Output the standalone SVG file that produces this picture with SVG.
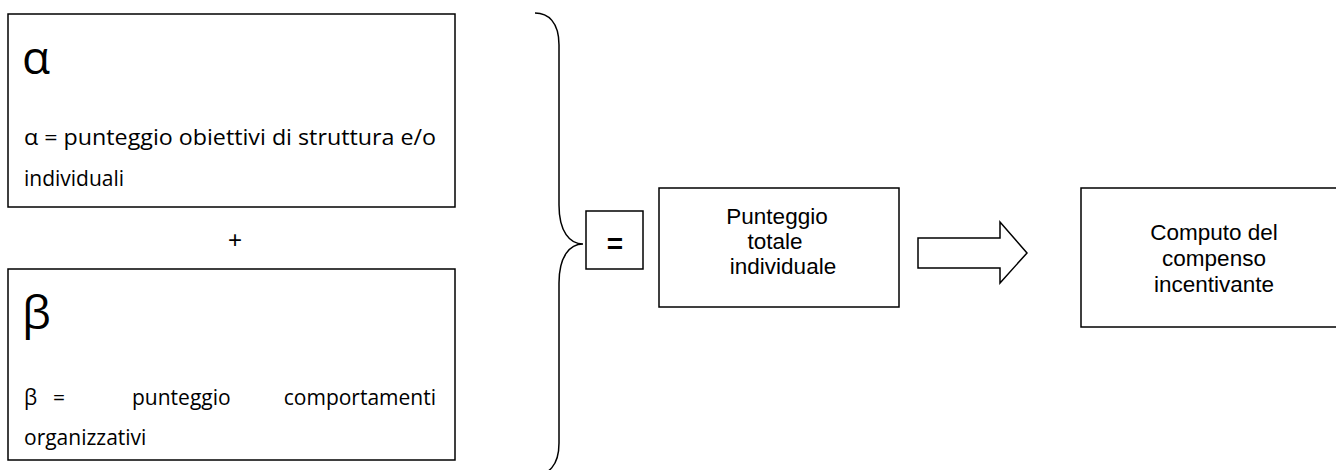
<svg xmlns="http://www.w3.org/2000/svg" width="1336" height="470" viewBox="0 0 1336 470">
<style>
.box{fill:#fff;stroke:#000;stroke-width:1.5}
.ln{fill:none;stroke:#000;stroke-width:1.5}
.t{font-family:"Open Sans","Liberation Sans",sans-serif;font-size:21px;fill:#000}
.big{font-family:"Open Sans","Liberation Sans",sans-serif;font-size:46px;fill:#000}
.a{font-family:"Liberation Sans",Arial,sans-serif;font-size:22.5px;fill:#000;text-anchor:middle}
</style>
<rect width="1336" height="470" fill="#fff"/>
<g id="alpha">
<rect class="box" x="8" y="14" width="447" height="193"/>
<text class="big" x="22" y="74">α</text>
<text class="t" x="24" y="145" textLength="412" lengthAdjust="spacingAndGlyphs">α = punteggio obiettivi di struttura e/o</text>
<text class="t" x="24" y="186">individuali</text>
</g>
<g id="plus">
<text x="235" y="248" text-anchor="middle" font-family="Liberation Sans,Arial,sans-serif" font-size="24">+</text>
</g>
<g id="beta">
<rect class="box" x="8" y="269" width="447" height="191"/>
<text class="big" x="22" y="329">β</text>
<text class="t" x="24" y="405">β</text>
<text class="t" x="53" y="405">=</text>
<text class="t" x="132" y="405">punteggio</text>
<text class="t" x="436" y="405" text-anchor="end">comportamenti</text>
<text class="t" x="24" y="445">organizzativi</text>
</g>
<g id="equals">
<rect class="box" x="586" y="211" width="57" height="58"/>
<text x="615" y="253" text-anchor="middle" font-family="Liberation Sans,Arial,sans-serif" font-size="28" font-weight="bold">=</text>
</g>
<g id="punteggio">
<rect class="box" x="659" y="188" width="240" height="119"/>
<text class="a" x="777" y="224">Punteggio</text>
<text class="a" x="775" y="249">totale</text>
<text class="a" x="783" y="274">individuale</text>
</g>
<g id="computo">
<rect class="box" x="1081" y="188" width="270" height="139"/>
<text class="a" x="1214" y="240">Computo del</text>
<text class="a" x="1214" y="266">compenso</text>
<text class="a" x="1214" y="292">incentivante</text>
</g>
<g id="connectors">
<path class="ln" d="M535,13 C548,13 559,22 559,45 V205 C559,232 570,244 583,244 C570,244 559,256 559,283 V443 C559,466 548,475 535,475"/>
<polygon class="box" points="918,238 1000,238 1000,222 1027,253 1000,283 1000,268 918,268"/>
</g>
</svg>
